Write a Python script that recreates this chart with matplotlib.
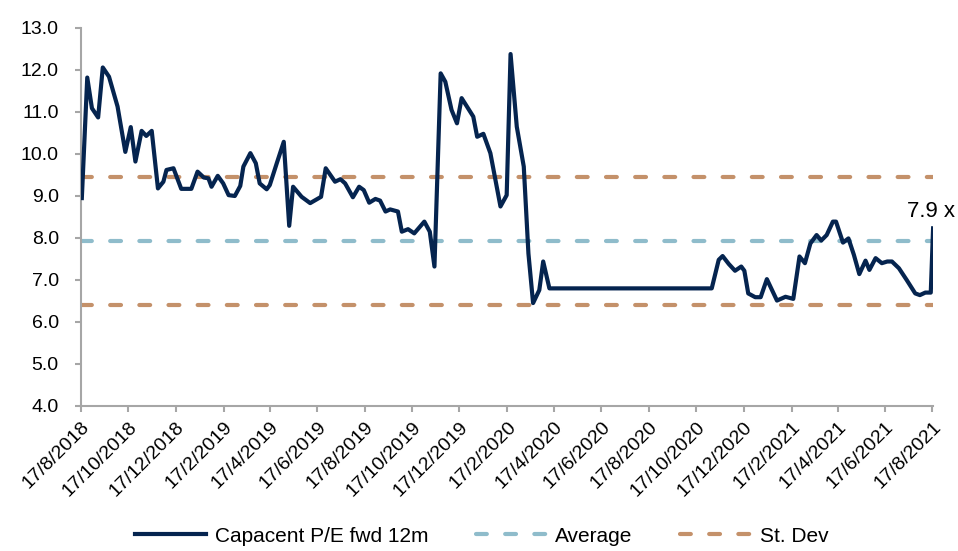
import numpy as np
import pandas as pd
import matplotlib
matplotlib.use("Agg")
import matplotlib.pyplot as plt

plt.rcParams['font.family'] = ['Liberation Sans', 'DejaVu Sans']
plt.rcParams['font.size'] = 14

# P/E fwd 12m, days counted from 17/8/2018
start = pd.Timestamp('2018-08-17')
day_offsets = [1, 8, 14, 22, 28, 36, 47, 57, 64, 70,
               78, 84, 91, 99, 106, 110, 119, 129, 142, 150,
               158, 164, 168, 176, 183, 190, 198, 205, 209, 218,
               225, 230, 239, 243, 252, 261, 268, 273, 284, 295,
               309, 315, 327, 334, 340, 350, 358, 364, 371, 379,
               385, 392, 398, 408, 413, 421, 429, 442, 449, 455,
               463, 469, 477, 484, 490, 505, 510, 518, 527, 540,
               548, 553, 561, 570, 576, 582, 590, 595, 603, 812,
               821, 826, 834, 842, 850, 854, 859, 868, 875, 883,
               896, 907, 917, 925, 932, 939, 947, 953, 960, 968,
               972, 981, 988, 995, 1002, 1010, 1015, 1023, 1031, 1038,
               1044, 1053, 1063, 1074, 1080, 1087, 1094, 1097]
pe_fwd = [8.95, 11.82, 11.09, 10.87, 12.06, 11.84, 11.13, 10.05, 10.64, 9.82,
          10.55, 10.43, 10.55, 9.18, 9.34, 9.62, 9.66, 9.17, 9.17, 9.58,
          9.44, 9.42, 9.22, 9.48, 9.30, 9.02, 9.00, 9.24, 9.70, 10.02,
          9.78, 9.30, 9.16, 9.26, 9.78, 10.29, 8.29, 9.22, 8.98, 8.83,
          8.98, 9.66, 9.34, 9.40, 9.30, 8.97, 9.22, 9.14, 8.84, 8.93,
          8.89, 8.63, 8.68, 8.63, 8.15, 8.21, 8.11, 8.39, 8.15, 7.32,
          11.92, 11.72, 11.05, 10.73, 11.33, 10.89, 10.41, 10.48, 10.02, 8.75,
          9.02, 12.38, 10.65, 9.70, 7.63, 6.45, 6.76, 7.44, 6.80, 6.80,
          7.48, 7.57, 7.38, 7.22, 7.32, 7.22, 6.68, 6.59, 6.59, 7.02,
          6.51, 6.60, 6.55, 7.56, 7.40, 7.87, 8.07, 7.94, 8.07, 8.39,
          8.39, 7.89, 7.99, 7.60, 7.14, 7.46, 7.24, 7.52, 7.40, 7.44,
          7.44, 7.28, 7.00, 6.68, 6.64, 6.70, 6.70, 8.23]
avg_pe = 7.93
std_pe = 1.53

dates = start + pd.to_timedelta(day_offsets, unit='D')
tick_dates = pd.date_range(start, '2021-08-17', freq=pd.DateOffset(months=2))
tick_labels = [f"{d.day}/{d.month}/{d.year}" for d in tick_dates]

navy = '#05244f'
teal = '#8fbccb'
brown = '#c4916a'
grey = '#a6a6a6'

fig = plt.figure(figsize=(9.58, 5.51), dpi=100)
ax = fig.add_axes([0.0846, 0.2632, 0.8894, 0.686])

ax.plot(dates, pe_fwd, color=navy, lw=3.0, label='Capacent P/E fwd 12m', zorder=3)
dash_kw = dict(lw=3.0, dashes=(2.6, 4.4), dash_capstyle='round')
ax.axhline(avg_pe, color=teal, label='Average', **dash_kw)
ax.axhline(avg_pe + std_pe, color=brown, label='St. Dev', **dash_kw)
ax.axhline(avg_pe - std_pe, color=brown, **dash_kw)

ax.annotate(f"{avg_pe:.1f} x", xy=(dates[-1], pe_fwd[-1]), xytext=(-19, 8),
            textcoords='offset points', ha='left', va='baseline', fontsize=16,
            annotation_clip=False)

ax.set_ylim(4, 13)
ax.set_yticks(np.arange(4, 13.5, 1))
ax.set_yticklabels([f"{v:.1f}" for v in np.arange(4, 13.5, 1)])
ax.set_xlim(start, dates[-1])
ax.set_xticks(tick_dates)
ax.set_xticklabels(tick_labels, rotation=45, ha='right', va='top',
                   rotation_mode='anchor')

for side in ['top', 'right']:
    ax.spines[side].set_visible(False)
for side in ['left', 'bottom']:
    ax.spines[side].set_color(grey)
    ax.spines[side].set_linewidth(1.5)
ax.tick_params(axis='both', direction='out', length=4, width=1.5, color=grey)
ax.tick_params(axis='y', pad=12)
ax.tick_params(axis='x', pad=5)

h, l = ax.get_legend_handles_labels()
fig.legend(h, l, ncol=3, loc='center', bbox_to_anchor=(0.503, 0.027),
           frameon=False, fontsize=15, handlelength=3.4, handletextpad=0.4,
           columnspacing=2.3)

plt.savefig('out.png', dpi=100)
